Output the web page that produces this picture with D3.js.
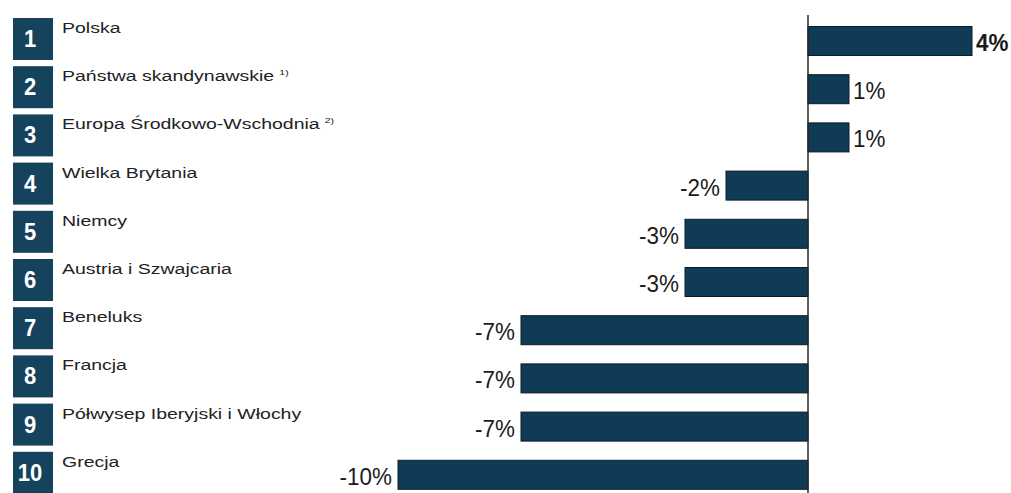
<!DOCTYPE html>
<html>
<head>
<meta charset="utf-8">
<script src="https://cdn.jsdelivr.net/npm/d3@7"></script>
<style>
  body { margin: 0; background: #fff; }
  svg { display: block; }
</style>
</head>
<body>
<svg class="bars" width="1011" height="493"></svg>
<script>
const ranks = [1, 2, 3, 4, 5, 6, 7, 8, 9, 10];
const regions = ["Polska", "Państwa skandynawskie", "Europa Środkowo-Wschodnia", "Wielka Brytania",
  "Niemcy", "Austria i Szwajcaria", "Beneluks", "Francja", "Półwysep Iberyjski i Włochy", "Grecja"];
const notes = ["", "1)", "2)", "", "", "", "", "", "", ""];
const values = [4, 1, 1, -2, -3, -3, -7, -7, -7, -10];

const data = ranks.map((r, i) => ({rank: r, name: regions[i], note: notes[i], value: values[i]}));

function drawBars(data) {
  const svg = d3.select('svg.bars');
  const sx = 1.3; // the picture is stretched sideways

  const x = d3.scaleLinear()
              .domain([-10, 4])
              .range([398, 972]);

  const y = d3.scaleBand()
              .domain(ranks)
              .range([17, 499])
              .padding(0);

  // number boxes
  svg.selectAll('rect.box')
    .data(data)
    .enter()
    .append('rect')
    .attr('class', 'box')
    .attr('x', 13)
    .attr('y', d => y(d.rank) + 1)
    .attr('width', 40)
    .attr('height', 42)
    .style('fill', '#15425d');

  svg.selectAll('text.num')
    .data(data)
    .enter()
    .append('text')
    .attr('class', 'num')
    .attr('transform', d => `translate(30, ${y(d.rank) + 30}) scale(1, 1.05)`)
    .style('text-anchor', 'middle')
    .style('fill', '#fff')
    .style('font-family', "'Liberation Sans', Arial, sans-serif")
    .style('font-weight', 'bold')
    .style('font-size', '22px')
    .text(d => d.rank);

  // region names
  const lab = svg.selectAll('text.name')
    .data(data)
    .enter()
    .append('text')
    .attr('class', 'name')
    .attr('transform', d => `translate(62, ${y(d.rank) + 16}) scale(${sx}, 1)`)
    .style('fill', '#222')
    .style('font-family', "'Liberation Sans', Arial, sans-serif")
    .style('font-size', '15px');

  lab.append('tspan').text(d => d.name);
  lab.append('tspan')
    .attr('dx', 4)
    .attr('dy', -6)
    .style('font-size', '8px')
    .text(d => d.note);

  // bars
  svg.selectAll('rect.bar')
    .data(data)
    .enter()
    .append('rect')
    .attr('class', 'bar')
    .attr('x', d => x(Math.min(0, d.value)))
    .attr('y', d => y(d.rank) + 9.5)
    .attr('width', d => Math.abs(x(d.value) - x(0)))
    .attr('height', 29)
    .style('fill', '#0f3b56')
    .style('stroke', '#0b1c27')
    .style('stroke-width', 1);

  // zero line
  svg.append('line')
    .attr('x1', x(0)).attr('x2', x(0))
    .attr('y1', 15).attr('y2', 493)
    .style('stroke', '#2a2a2a')
    .style('stroke-width', 1.5);

  // value labels
  svg.selectAll('text.val')
    .data(data)
    .enter()
    .append('text')
    .attr('class', 'val')
    .attr('transform', d => {
      const px = d.value >= 0 ? x(d.value) + 4 : x(d.value) - 6;
      return `translate(${px}, ${y(d.rank) + 34}) scale(1.02, 1.05)`;
    })
    .style('text-anchor', d => d.value >= 0 ? 'start' : 'end')
    .style('fill', '#1a1a1a')
    .style('font-family', "'Liberation Sans', Arial, sans-serif")
    .style('font-weight', d => d.value === 4 ? 'bold' : 'normal')
    .style('font-size', '22px')
    .text(d => `${d.value}%`);
}

drawBars(data);
</script>
</body>
</html>
